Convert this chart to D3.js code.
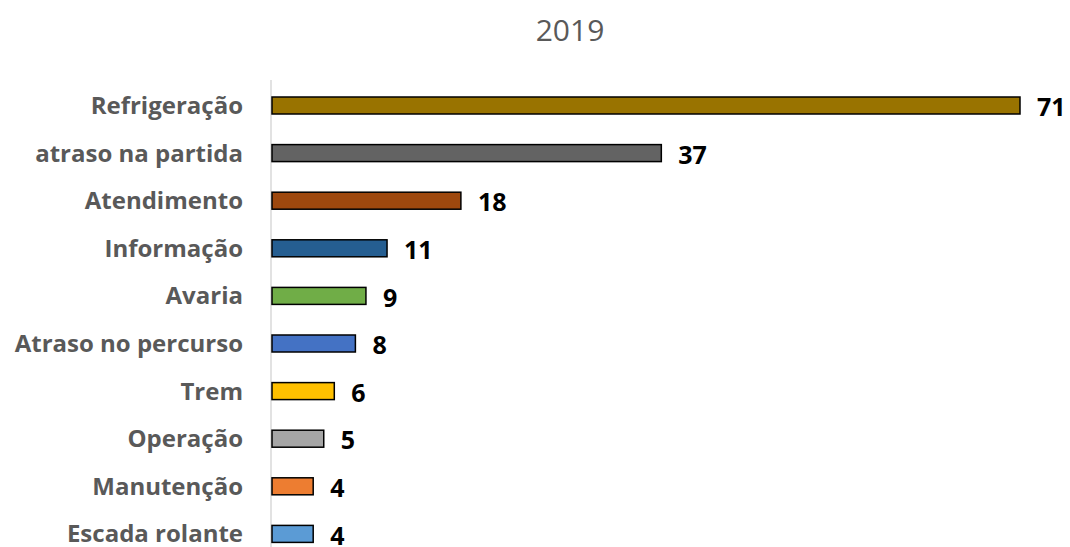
<!DOCTYPE html>
<html><head><meta charset="utf-8">
<script src="https://cdn.jsdelivr.net/npm/d3@7"></script>
<style>body{margin:0;background:#fff}</style>
</head><body>
<svg id="c" width="1070" height="547"></svg>
<script>
const categories = ["Refrigeração","atraso na partida","Atendimento","Informação","Avaria","Atraso no percurso","Trem","Operação","Manutenção","Escada rolante"];
const values = [71,37,18,11,9,8,6,5,4,4];
const colors = ["#997300","#636363","#9e480e","#255e91","#70ad47","#4472c4","#ffc000","#a5a5a5","#ed7d31","#5b9bd5"];
const title = "2019";

const svg = d3.select("#c");
const x0 = 271;
const x = d3.scaleLinear().domain([0,71]).range([x0, 1020]);
const y = d3.scaleBand().domain(categories).range([81.7, 557.7]).paddingInner(0.643).paddingOuter(0.3215);

svg.append("text").attr("x",570).attr("y",41).attr("text-anchor","middle")
  .attr("font-family","'Open Sans', sans-serif").attr("font-size",30).attr("fill","#595959").text(title);

svg.append("line").attr("x1",x0).attr("x2",x0).attr("y1",80).attr("y2",547)
  .attr("stroke","#d9d9d9").attr("stroke-width",1.5);

const data = categories.map((c,i)=>({c, v:values[i], col:colors[i]}));

svg.selectAll("rect.bar").data(data).join("rect").attr("class","bar")
  .attr("x", x(0)+1).attr("y", d=>y(d.c)).attr("width", d=>x(d.v)-x(0)-1).attr("height", y.bandwidth())
  .attr("fill", d=>d.col).attr("stroke","#000").attr("stroke-width",1.5);

svg.selectAll("text.cat").data(data).join("text").attr("class","cat")
  .attr("x", 243).attr("y", d=>y(d.c)+y.bandwidth()/2).attr("dy","0.35em")
  .attr("text-anchor","end").attr("font-family","'Open Sans', sans-serif").attr("font-weight","bold")
  .attr("font-size",24).attr("fill","#595959").text(d=>d.c);

svg.selectAll("text.val").data(data).join("text").attr("class","val")
  .attr("x", d=>x(d.v)+17).attr("y", d=>y(d.c)+y.bandwidth()/2+2).attr("dy","0.35em")
  .attr("font-family","'Open Sans', sans-serif").attr("font-weight","bold")
  .attr("font-size",25).attr("fill","#000").text(d=>d.v);
</script>
</body></html>
